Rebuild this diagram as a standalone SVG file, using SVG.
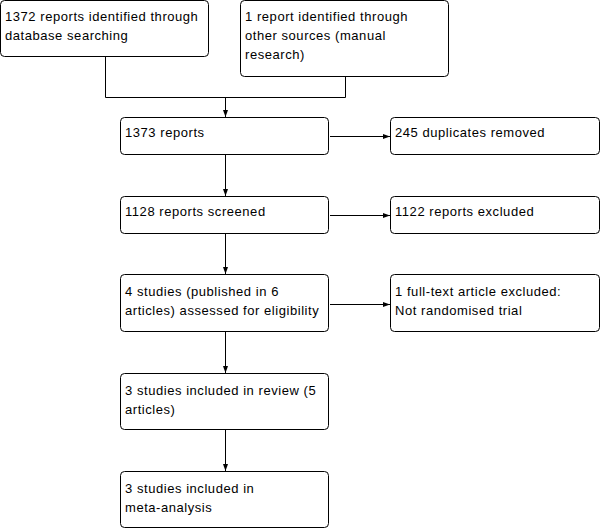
<svg xmlns="http://www.w3.org/2000/svg" width="603" height="529" viewBox="0 0 603 529">
<style>
.box{fill:#fff;stroke:#000;stroke-width:1}
.t{font-family:"Liberation Sans",Arial,sans-serif;font-size:13px;letter-spacing:0.55px;fill:#000}
.c{fill:none;stroke:#000;stroke-width:1}
</style>
<defs>
<marker id="ah" markerUnits="userSpaceOnUse" markerWidth="8" markerHeight="6" refX="7" refY="2.5" orient="auto">
<path d="M0,0 L7,2.5 L0,5 z" fill="#000"/>
</marker>
</defs>
<rect width="603" height="529" fill="#fff"/>
<g id="connectors">
<path class="c" d="M105.5 57 V97.5 H345.5 V77"/>
<path class="c" d="M225.5 97.5 V117" marker-end="url(#ah)"/>
<path class="c" d="M225.5 155 V196" marker-end="url(#ah)"/>
<path class="c" d="M225.5 234 V274" marker-end="url(#ah)"/>
<path class="c" d="M225.5 332 V373" marker-end="url(#ah)"/>
<path class="c" d="M225.5 430 V471" marker-end="url(#ah)"/>
<path class="c" d="M330 136.5 H390" marker-end="url(#ah)"/>
<path class="c" d="M330 215.5 H390" marker-end="url(#ah)"/>
<path class="c" d="M330 304.5 H390" marker-end="url(#ah)"/>
</g>
<g id="n1"><rect class="box" x="0.5" y="0.5" width="208" height="56" rx="4"/>
<text class="t" x="5" y="21">1372 reports identified through</text>
<text class="t" x="5" y="39.5">database searching</text></g>
<g id="n2"><rect class="box" x="240.5" y="0.5" width="208" height="76" rx="4"/>
<text class="t" x="245" y="21">1 report identified through</text>
<text class="t" x="245" y="39.5">other sources (manual</text>
<text class="t" x="245" y="58.5">research)</text></g>
<g id="n3"><rect class="box" x="120.5" y="117.5" width="208" height="37" rx="4"/>
<text class="t" x="125" y="137">1373 reports</text></g>
<g id="n4"><rect class="box" x="390.5" y="117.5" width="209" height="37" rx="4"/>
<text class="t" x="395" y="137">245 duplicates removed</text></g>
<g id="n5"><rect class="box" x="120.5" y="196.5" width="208" height="37" rx="4"/>
<text class="t" x="125" y="216">1128 reports screened</text></g>
<g id="n6"><rect class="box" x="390.5" y="196.5" width="209" height="37" rx="4"/>
<text class="t" x="395" y="216">1122 reports excluded</text></g>
<g id="n7"><rect class="box" x="120.5" y="274.5" width="208" height="57" rx="4"/>
<text class="t" x="125" y="295.5">4 studies (published in 6</text>
<text class="t" x="125" y="314.5">articles) assessed for eligibility</text></g>
<g id="n8"><rect class="box" x="390.5" y="274.5" width="209" height="57" rx="4"/>
<text class="t" x="395" y="295.5">1 full-text article excluded:</text>
<text class="t" x="395" y="314.5">Not randomised trial</text></g>
<g id="n9"><rect class="box" x="120.5" y="373.5" width="208" height="56" rx="4"/>
<text class="t" x="125" y="394.5">3 studies included in review (5</text>
<text class="t" x="125" y="413.5">articles)</text></g>
<g id="n10"><rect class="box" x="120.5" y="471.5" width="208" height="56" rx="4"/>
<text class="t" x="125" y="492.5">3 studies included in</text>
<text class="t" x="125" y="511.5">meta-analysis</text></g>
</svg>
